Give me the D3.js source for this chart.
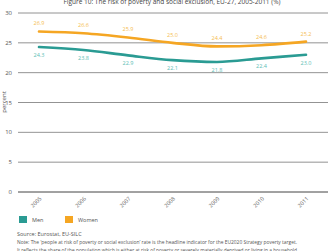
<!DOCTYPE html>
<html><head><meta charset="utf-8">
<script src="https://cdn.jsdelivr.net/npm/d3@7"></script>
<style>body{margin:0;background:#fff;}svg{display:block;font-family:"Open Sans",sans-serif;}</style>
</head><body><svg id="c" width="328" height="251"></svg>
<script>
const years = ["2005","2006","2007","2008","2009","2010","2011"];
const men = [24.3,23.8,22.9,22.1,21.8,22.4,23.0];
const women = [26.9,26.6,25.9,25.0,24.4,24.6,25.2];
const yTicks = [0,5,10,15,20,25,30];
const seriesNames = ["Men","Women"];
const colors = ["#2a9b93","#f5a623"];
const labelColors = ["#5bbdb4","#f5bd50"];

const svg = d3.select("#c");
const x = d3.scalePoint().domain(years).range([39,306]);
const y = d3.scaleLinear().domain([0,30]).range([192,13]);

svg.append("text").attr("x",172).attr("y",4).attr("text-anchor","middle")
  .attr("font-size",6.5).attr("fill","#444")
  .text("Figure 10: The risk of poverty and social exclusion, EU-27, 2005-2011 (%)");

const g = svg.append("g");
g.selectAll("line.grid").data(yTicks).join("line").attr("class","grid")
  .attr("x1",18).attr("x2",328).attr("y1",d=>y(d)).attr("y2",d=>y(d))
  .attr("stroke",d=>d===0?"#444":"#777").attr("stroke-width",d=>d===0?1:0.8);
g.selectAll("text.yt").data(yTicks).join("text").attr("class","yt")
  .attr("x",12).attr("y",d=>y(d)+2).attr("text-anchor","end")
  .attr("font-size",6).attr("fill","#555").text(d=>d);

svg.append("text").attr("transform","translate(6,102) rotate(-90)")
  .attr("text-anchor","middle").attr("font-size",6).attr("fill","#555").text("percent");

g.selectAll("text.xt").data(years).join("text").attr("class","xt")
  .attr("transform",d=>`translate(${x(d)+3},${199}) rotate(-45)`)
  .attr("text-anchor","end").attr("font-size",5.5).attr("fill","#666").text(d=>d);

const data = [men, women];
const line = d3.line().x((d,i)=>x(years[i])).y(d=>y(d)).curve(d3.curveMonotoneX);
data.forEach((s,k)=>{
  svg.append("path").attr("d",line(s)).attr("fill","none")
    .attr("stroke",colors[k]).attr("stroke-width",2.6).attr("stroke-linecap","round");
  svg.selectAll("text.l"+k).data(s).join("text").attr("class","l"+k)
    .attr("x",(d,i)=>x(years[i])).attr("y",d=> k===0 ? y(d)+10 : y(d)-6)
    .attr("text-anchor","middle").attr("font-size",5.5).attr("fill",labelColors[k])
    .text(d=>d.toFixed(1));
});

const leg = svg.append("g");
seriesNames.forEach((n,k)=>{
  const lx = 19 + k*46;
  leg.append("rect").attr("x",lx).attr("y",216).attr("width",8).attr("height",7).attr("fill",colors[k]);
  leg.append("text").attr("x",lx+13).attr("y",222).attr("font-size",5.5).attr("fill","#555").text(n);
});

svg.append("text").attr("x",17).attr("y",236).attr("font-size",5.5).attr("fill","#555").text("Source: Eurostat, EU-SILC");
svg.append("text").attr("x",17).attr("y",244).attr("font-size",5.2).attr("fill","#555")
  .attr("textLength",280).attr("lengthAdjust","spacingAndGlyphs")
  .text("Note: The \u2018people at risk of poverty or social exclusion\u2019 rate is the headline indicator for the EU2020 Strategy poverty target.");
svg.append("text").attr("x",17).attr("y",252).attr("font-size",5.2).attr("fill","#555")
  .attr("textLength",280).attr("lengthAdjust","spacingAndGlyphs")
  .text("It reflects the share of the population which is either at risk of poverty or severely materially deprived or living in a household");
</script></body></html>
